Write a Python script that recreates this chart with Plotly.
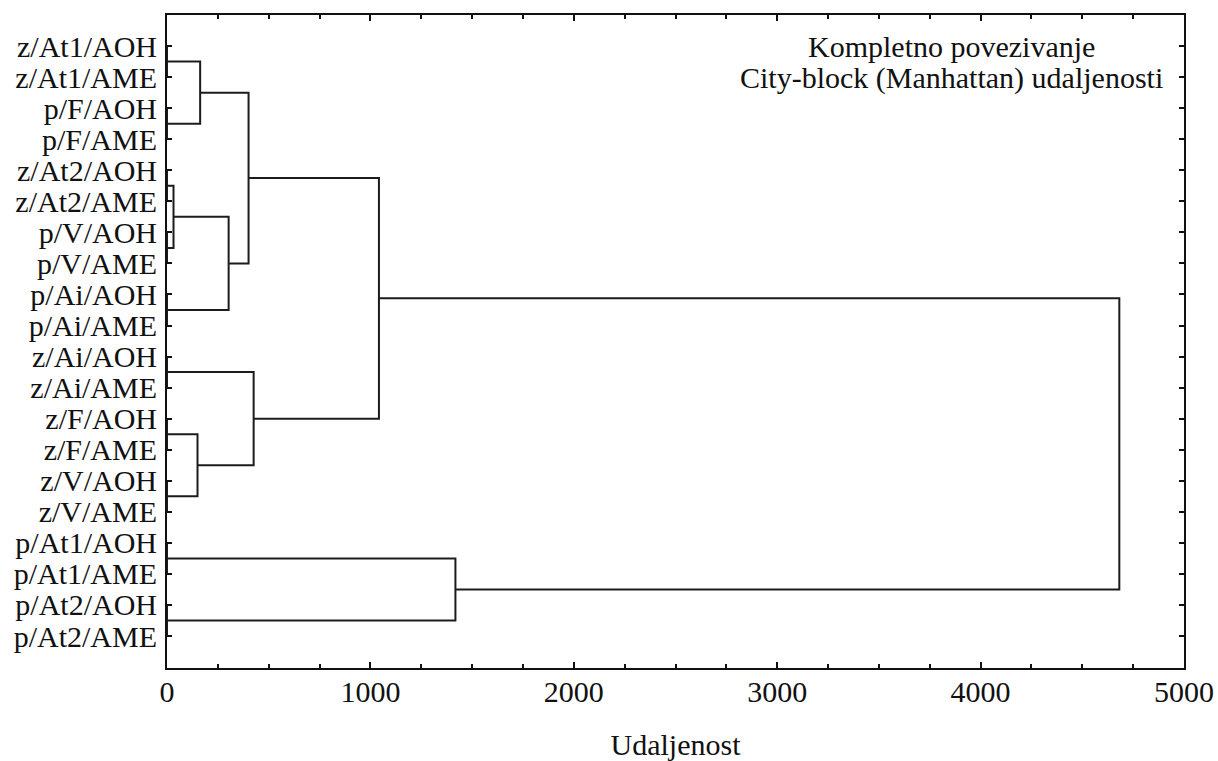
import plotly.graph_objects as go

# Leaf objects in dendrogram order (top to bottom)
leaf_labels = [
    "z/At1/AOH", "z/At1/AME", "p/F/AOH", "p/F/AME",
    "z/At2/AOH", "z/At2/AME", "p/V/AOH", "p/V/AME",
    "p/Ai/AOH", "p/Ai/AME", "z/Ai/AOH", "z/Ai/AME",
    "z/F/AOH", "z/F/AME", "z/V/AOH", "z/V/AME",
    "p/At1/AOH", "p/At1/AME", "p/At2/AOH", "p/At2/AME",
]

# Complete-linkage merges: ids < 20 are leaves, id 20+k is the cluster of merge k
merge_left = [0, 2, 4, 6, 8, 10, 12, 14, 16, 18, 22, 26, 20, 30, 32, 25, 34, 28, 36]
merge_right = [1, 3, 5, 7, 9, 11, 13, 15, 17, 19, 23, 27, 21, 24, 33, 31, 35, 29, 37]
merge_height = [0, 0, 0, 0, 0, 0, 0, 0, 0, 0, 32, 150, 163, 303, 401, 426, 1042, 1418, 4682]

n_leaves = len(leaf_labels)
pos = {i: float(i) for i in range(n_leaves)}
height = {i: 0.0 for i in range(n_leaves)}

xs, ys = [], []
for k, (a, b, h) in enumerate(zip(merge_left, merge_right, merge_height)):
    node = n_leaves + k
    # bracket: child a -> merge height -> child b
    xs += [height[a], h, h, height[b], None]
    ys += [pos[a], pos[a], pos[b], pos[b], None]
    pos[node] = (pos[a] + pos[b]) / 2.0
    height[node] = h

line_color = "#1e1b1c"
font_family = "Liberation Serif, Times New Roman, serif"

fig = go.Figure()
fig.add_trace(go.Scatter(
    x=xs, y=ys, mode="lines",
    line=dict(color=line_color, width=2),
    hoverinfo="skip", showlegend=False, cliponaxis=False,
))

fig.add_annotation(x=3856, y=0.02, xref="x", yref="y", text="Kompletno povezivanje",
                   showarrow=False, xanchor="center", yanchor="middle",
                   font=dict(family=font_family, size=30, color="#111"))
fig.add_annotation(x=3856, y=1.04, xref="x", yref="y", text="City-block (Manhattan) udaljenosti",
                   showarrow=False, xanchor="center", yanchor="middle",
                   font=dict(family=font_family, size=30, color="#111"))

fig.update_layout(
    width=1218, height=761,
    margin=dict(l=167, r=34, t=15, b=93),
    paper_bgcolor="white", plot_bgcolor="white",
    font=dict(family=font_family, size=30, color="#111"),
    showlegend=False,
)
fig.update_xaxes(
    range=[0, 5000], tickvals=[0, 1000, 2000, 3000, 4000, 5000],
    ticks="inside", ticklen=6, tickwidth=2, tickcolor="#111",
    minor=dict(dtick=250, ticks="inside", ticklen=4, tickwidth=2, tickcolor="#111"),
    showline=True, linewidth=2, linecolor="#111", mirror="ticks",
    showgrid=False, zeroline=False, automargin=False,
    ticklabelstandoff=-4,
    tickfont=dict(size=30),
    title=dict(text="Udaljenost", standoff=38, font=dict(size=30)),
)
fig.update_yaxes(
    range=[20.03, -1.0],
    tickvals=list(range(n_leaves)), ticktext=leaf_labels,
    ticks="inside", ticklen=5, tickwidth=2, tickcolor="#111",
    showline=True, linewidth=2, linecolor="#111", mirror="ticks",
    showgrid=False, zeroline=False, automargin=False,
    ticklabelstandoff=2,
)

fig.write_html("out.html")
